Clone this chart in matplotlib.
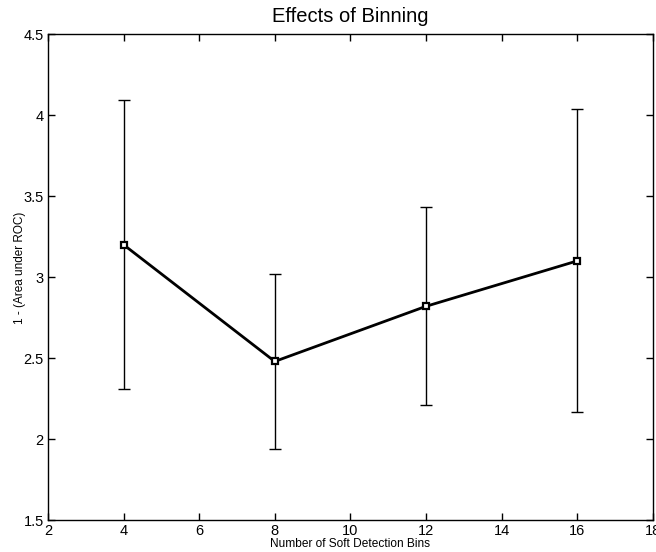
import matplotlib
matplotlib.use("Agg")
import matplotlib.pyplot as plt
from matplotlib.ticker import FuncFormatter

bins = [4, 8, 12, 16]
values = [3.20, 2.48, 2.82, 3.10]
err_upper = [0.89, 0.54, 0.61, 0.935]
err_lower = [0.89, 0.54, 0.61, 0.93]
xticks = [2, 4, 6, 8, 10, 12, 14, 16, 18]
yticks = [1.5, 2, 2.5, 3, 3.5, 4, 4.5]

plt.rcParams['font.family'] = ['Liberation Sans', 'DejaVu Sans']

fig = plt.figure(figsize=(6.56, 5.52), dpi=100)
ax = fig.add_axes([48/656, 1-520.3/552, (652.7-48)/656, (520.3-34)/552])

ax.errorbar(bins, values, yerr=[err_lower, err_upper], fmt='none',
            ecolor='black', elinewidth=1.0, capsize=4, capthick=1.0)
ax.plot(bins, values, color='black', linewidth=2.0, marker='s',
        markersize=5, markerfacecolor='white', markeredgecolor='black',
        markeredgewidth=1.6)

ax.set_xlim(2, 18)
ax.set_ylim(1.5, 4.5)
ax.set_xticks(xticks)
ax.set_yticks(yticks)
ax.yaxis.set_major_formatter(FuncFormatter(lambda v, p: '%g' % v))
ax.tick_params(direction='in', length=5, width=1, top=True, right=True,
               labelsize=10.5, colors='black', pad=3)
for s in ax.spines.values():
    s.set_linewidth(1.0)

ax.set_title('Effects of Binning', fontsize=14.5, pad=9)
ax.set_xlabel('Number of Soft Detection Bins', fontsize=8.6, labelpad=0)
ax.set_ylabel('1 - (Area under ROC)', fontsize=8.5)
ax.yaxis.set_label_coords(-0.036, 0.52)

fig.savefig('out.png', dpi=100)
